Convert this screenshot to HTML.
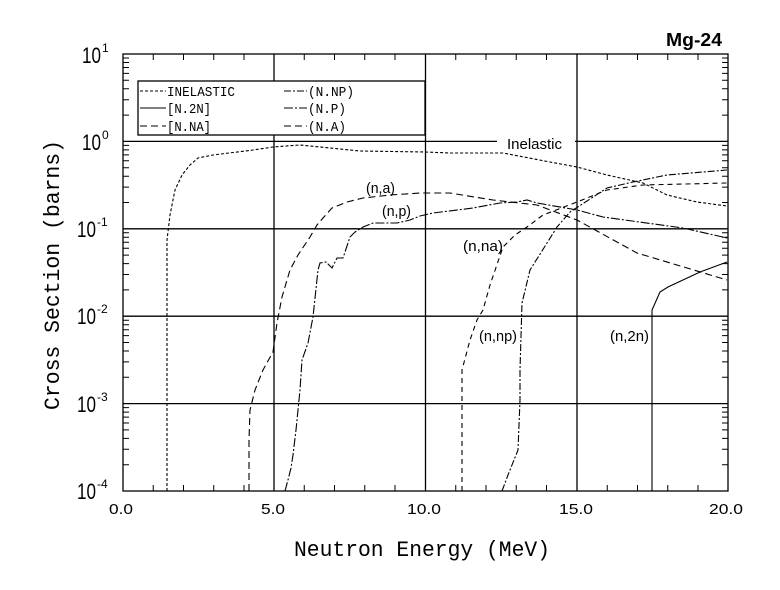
<!DOCTYPE html>
<html><head><meta charset="utf-8"><style>
html,body{margin:0;padding:0;background:#fff;}
svg{display:block;}
text{font-family:"Liberation Sans",sans-serif;fill:#000;}
.m{font-family:"Liberation Mono",monospace;}
</style></head><body>
<svg width="780" height="590" viewBox="0 0 780 590" xmlns="http://www.w3.org/2000/svg">
<g stroke="#000" stroke-width="1.3" fill="none">
<rect x="123" y="54" width="605" height="437"/>
<line x1="274" y1="54" x2="274" y2="491"/>
<line x1="425.5" y1="54" x2="425.5" y2="491"/>
<line x1="577" y1="54" x2="577" y2="491"/>
<line x1="123" y1="141.4" x2="497" y2="141.4"/>
<line x1="575" y1="141.4" x2="728" y2="141.4"/>
<line x1="123" y1="228.8" x2="728" y2="228.8"/>
<line x1="123" y1="316.2" x2="728" y2="316.2"/>
<line x1="123" y1="403.6" x2="728" y2="403.6"/>
</g>
<g stroke="#000" stroke-width="1">
<path d="M153.25 491v-6M183.5 491v-6M213.75 491v-6M244 491v-6M304.25 491v-6M334.5 491v-6M364.75 491v-6M395 491v-6M455.75 491v-6M486 491v-6M516.25 491v-6M546.5 491v-6M607.25 491v-6M637.5 491v-6M667.75 491v-6M698 491v-6
M153.25 54v6M183.5 54v6M213.75 54v6M244 54v6M304.25 54v6M334.5 54v6M364.75 54v6M395 54v6M455.75 54v6M486 54v6M516.25 54v6M546.5 54v6M607.25 54v6M637.5 54v6M667.75 54v6M698 54v6"/>
</g>
<g stroke="#000" stroke-width="1" id="yt"></g>
<rect x="138" y="81" width="287" height="54" fill="#fff" stroke="#000" stroke-width="1.3"/>
<g stroke="#000" stroke-width="1" fill="none">
<line x1="140" y1="91" x2="166" y2="91" stroke-dasharray="3,2"/>
<line x1="140" y1="108" x2="166" y2="108"/>
<line x1="140" y1="126" x2="166" y2="126" stroke-dasharray="7,4"/>
<line x1="284" y1="91" x2="307" y2="91" stroke-dasharray="7,2,2,2"/>
<line x1="284" y1="108" x2="307" y2="108" stroke-dasharray="9,2,2,2"/>
<line x1="284" y1="126" x2="307" y2="126" stroke-dasharray="7,4"/>
</g>
<g class="m" font-size="14">
<text x="167" y="96" class="m" textLength="68" lengthAdjust="spacingAndGlyphs">INELASTIC</text>
<text x="167" y="113" class="m" textLength="44" lengthAdjust="spacingAndGlyphs">[N.2N]</text>
<text x="167" y="131" class="m" textLength="44" lengthAdjust="spacingAndGlyphs">[N.NA]</text>
<text x="308" y="96" class="m" textLength="46" lengthAdjust="spacingAndGlyphs">(N.NP)</text>
<text x="308" y="113" class="m" textLength="38" lengthAdjust="spacingAndGlyphs">(N.P)</text>
<text x="308" y="131" class="m" textLength="38" lengthAdjust="spacingAndGlyphs">(N.A)</text>
</g>
<g stroke="#000" stroke-width="1.1" fill="none">
<polyline stroke-dasharray="3,2" points="167,491 167,240 170,215 175,190 182,175 190,165 198,158 213,155 253,150 273,147 300,145 320,147 360,151 425,152 450,153 503,153 550,162 577,167 607,175 643,183 667,195 697,202 727,206"/>
<polyline stroke-dasharray="7,4" points="249,491 249,440 250,410 255,390 263,370 273,352 277,323 282,297 290,270 298,255 310,237 317,225 323,218 332,208 347,202 363,198 390,195 420,193 450,193 493,200 537,205 577,220 637,253 727,280"/>
<polyline stroke-dasharray="9,2,2,2" points="285,491 288,480 291,468 293,455 296,430 300,390 302,360 308,343 313,317 318,270 320,263 326,262 332,268 337,258 343,258 350,237 355,232 363,227 373,223 397,223 410,220 420,216 433,213 473,208 500,203 517,202 527,200 537,203 577,210 603,217 683,228 727,238"/>
<polyline stroke-dasharray="5,4" points="462,491 462,370 470,340 477,320 483,310 490,285 503,247 515,235 527,227 543,215 577,202 607,190 643,185 727,183"/>
<polyline stroke-dasharray="7,2,2,2" points="502,491 508,475 514,460 518,450 520,400 520,370 522,303 530,270 547,243 557,227 570,212 607,188 633,182 667,175 727,170"/>
<polyline points="652,491 652,310 660,292 668,287 700,272 727,262"/>
</g>
<g font-size="15">
<text x="507" y="149" textLength="55" lengthAdjust="spacingAndGlyphs">Inelastic</text>
<text x="366" y="193" textLength="29" lengthAdjust="spacingAndGlyphs">(n,a)</text>
<text x="382" y="216" textLength="29" lengthAdjust="spacingAndGlyphs">(n,p)</text>
<text x="463" y="251" textLength="40" lengthAdjust="spacingAndGlyphs">(n,na)</text>
<text x="479" y="341" textLength="38" lengthAdjust="spacingAndGlyphs">(n,np)</text>
<text x="610" y="341" textLength="39" lengthAdjust="spacingAndGlyphs">(n,2n)</text>
</g>
<text x="666" y="46" font-size="18" font-weight="bold" textLength="56" lengthAdjust="spacingAndGlyphs">Mg-24</text>
<g class="m" font-size="22">
<text x="82" y="63" textLength="19" lengthAdjust="spacingAndGlyphs">10</text><text x="102" y="52" font-size="12">1</text>
<text x="82" y="150" textLength="19" lengthAdjust="spacingAndGlyphs">10</text><text x="102" y="139" font-size="12">0</text>
<text x="77" y="237" textLength="19" lengthAdjust="spacingAndGlyphs">10</text><text x="97" y="226" font-size="12">-1</text>
<text x="77" y="324" textLength="19" lengthAdjust="spacingAndGlyphs">10</text><text x="97" y="313" font-size="12">-2</text>
<text x="77" y="412" textLength="19" lengthAdjust="spacingAndGlyphs">10</text><text x="97" y="401" font-size="12">-3</text>
<text x="77" y="499" textLength="19" lengthAdjust="spacingAndGlyphs">10</text><text x="97" y="488" font-size="12">-4</text>
</g>
<g class="m" font-size="15">
<text x="109" y="514" textLength="24" lengthAdjust="spacingAndGlyphs">0.0</text>
<text x="261" y="514" textLength="24" lengthAdjust="spacingAndGlyphs">5.0</text>
<text x="407" y="514" textLength="34" lengthAdjust="spacingAndGlyphs">10.0</text>
<text x="559" y="514" textLength="34" lengthAdjust="spacingAndGlyphs">15.0</text>
<text x="709" y="514" textLength="34" lengthAdjust="spacingAndGlyphs">20.0</text>
</g>
<text class="m" x="294" y="556" font-size="22" textLength="256" lengthAdjust="spacingAndGlyphs">Neutron Energy (MeV)</text>
<text class="m" transform="translate(59,410) rotate(-90)" font-size="22" textLength="270" lengthAdjust="spacingAndGlyphs">Cross Section (barns)</text>
<script>
(function(){var g=document.getElementById('yt');var d='';for(var k=0;k<5;k++){for(var m=2;m<=9;m++){var y=491-87.4*(k+Math.log10(m));d+='M123 '+y.toFixed(1)+'h6M728 '+y.toFixed(1)+'h-6';}}var p=document.createElementNS('http://www.w3.org/2000/svg','path');p.setAttribute('d',d);g.appendChild(p);})();
</script>
</svg>
</body></html>
